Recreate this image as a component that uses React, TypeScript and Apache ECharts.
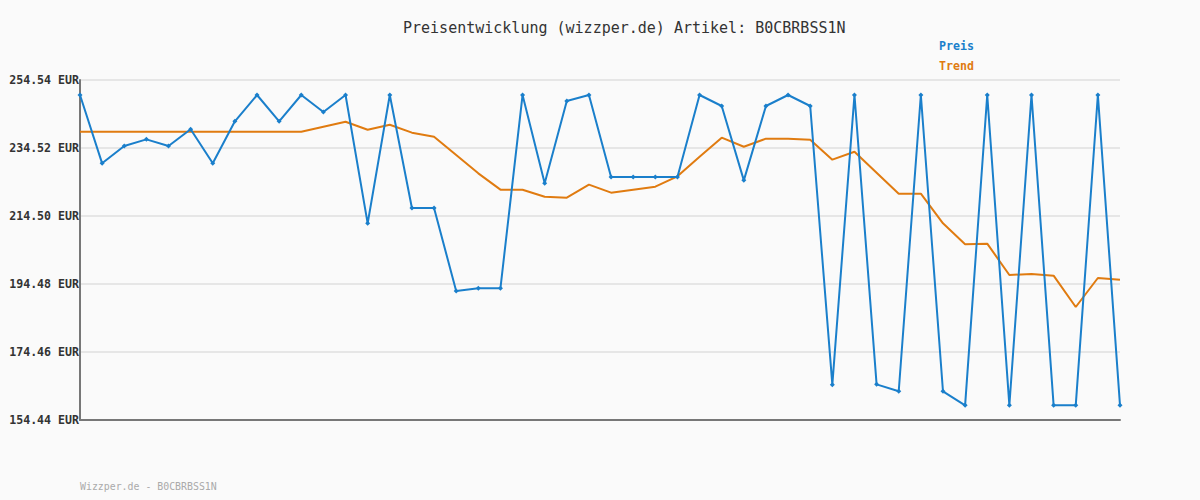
import React, { useEffect, useRef } from "react";
import * as echarts from "echarts";

const categories: string[] = Array.from({ length: 48 }, (_, i) => String(i + 1));

const preis: number[] = [
  250.12, 230.01, 235.11, 237.07, 235.11, 240.02, 230.01, 242.37, 250.12, 242.37,
  250.12, 245.12, 250.12, 212.34, 250.12, 216.85, 216.85, 192.42, 193.2, 193.2,
  250.12, 224.12, 248.36, 250.12, 225.98, 225.98, 225.98, 225.98, 250.12, 246.89,
  224.99, 246.89, 250.12, 246.89, 164.84, 250.12, 164.94, 162.89, 250.12, 162.89,
  158.76, 250.12, 158.76, 250.12, 158.76, 158.76, 250.12, 158.76,
];

const trend: number[] = [
  239.32, 239.32, 239.32, 239.32, 239.32, 239.32, 239.32, 239.32, 239.32, 239.32,
  239.32, 240.79, 242.26, 239.91, 241.38, 239.03, 237.85, 232.46, 227.06, 222.25,
  222.25, 220.19, 219.9, 223.72, 221.37, 222.25, 223.13, 226.18, 231.96, 237.56,
  234.9, 237.27, 237.27, 236.96, 231.08, 233.43, 227.25, 221.07, 221.07, 212.35,
  206.17, 206.36, 197.13, 197.42, 196.93, 187.71, 196.25, 195.75,
];

const yMin = 154.44;
const yMax = 254.54;
const yStep = 20.02;

const titleText = "Preisentwicklung (wizzper.de) Artikel: B0CBRBSS1N";
const footerText = "Wizzper.de - B0CBRBSS1N";
const legendNames = ["Preis", "Trend"];

const BLUE = "#1a7fcb";
const ORANGE = "#e07b10";
const MONO = "'DejaVu Sans Mono', monospace";

export default function App() {
  const ref = useRef<HTMLDivElement>(null);

  useEffect(() => {
    if (!ref.current) return;
    const chart = echarts.init(ref.current, undefined, { renderer: "svg" });
    chart.setOption({
      animation: false,
      backgroundColor: "#fafafa",
      title: {
        text: titleText,
        left: 403,
        top: 20,
        padding: 0,
        textStyle: {
          fontFamily: MONO,
          fontSize: 15,
          fontWeight: "normal",
          color: "#333",
        },
      },
      graphic: [
        {
          type: "text",
          left: 939,
          top: 40,
          style: { text: legendNames[0], fill: BLUE, font: `bold 11.6px ${MONO}` },
        },
        {
          type: "text",
          left: 939,
          top: 60,
          style: { text: legendNames[1], fill: ORANGE, font: `bold 11.6px ${MONO}` },
        },
        {
          type: "text",
          left: 80,
          top: 481,
          style: { text: footerText, fill: "#aaa", font: `9.9px ${MONO}` },
        },
      ],
      grid: { left: 80, right: 80, top: 80, bottom: 80, containLabel: false },
      xAxis: {
        type: "category",
        data: categories,
        boundaryGap: false,
        axisLine: { show: true, lineStyle: { color: "#777", width: 2 } },
        axisTick: { show: false },
        axisLabel: { show: false },
        splitLine: { show: false },
      },
      yAxis: {
        type: "value",
        min: yMin,
        max: yMax,
        interval: yStep,
        axisLine: { show: true, lineStyle: { color: "#777", width: 2 } },
        axisTick: { show: false },
        axisLabel: {
          margin: 1,
          fontFamily: MONO,
          fontSize: 11.6,
          fontWeight: "bold",
          color: "#333",
          formatter: (v: number) => v.toFixed(2) + " EUR",
        },
        splitLine: { show: true, lineStyle: { color: "#e6e6e6", width: 2 } },
      },
      series: [
        {
          name: legendNames[1],
          type: "line",
          data: trend,
          showSymbol: false,
          symbol: "none",
          lineStyle: { color: ORANGE, width: 2 },
          itemStyle: { color: ORANGE },
          z: 2,
        },
        {
          name: legendNames[0],
          type: "line",
          data: preis,
          symbol: "diamond",
          symbolSize: 5,
          lineStyle: { color: BLUE, width: 2 },
          itemStyle: { color: BLUE },
          z: 3,
        },
      ],
    });
    return () => chart.dispose();
  }, []);

  return (
    <div
      ref={ref}
      style={{ position: "absolute", left: 0, top: 0, width: 1200, height: 500 }}
    />
  );
}
